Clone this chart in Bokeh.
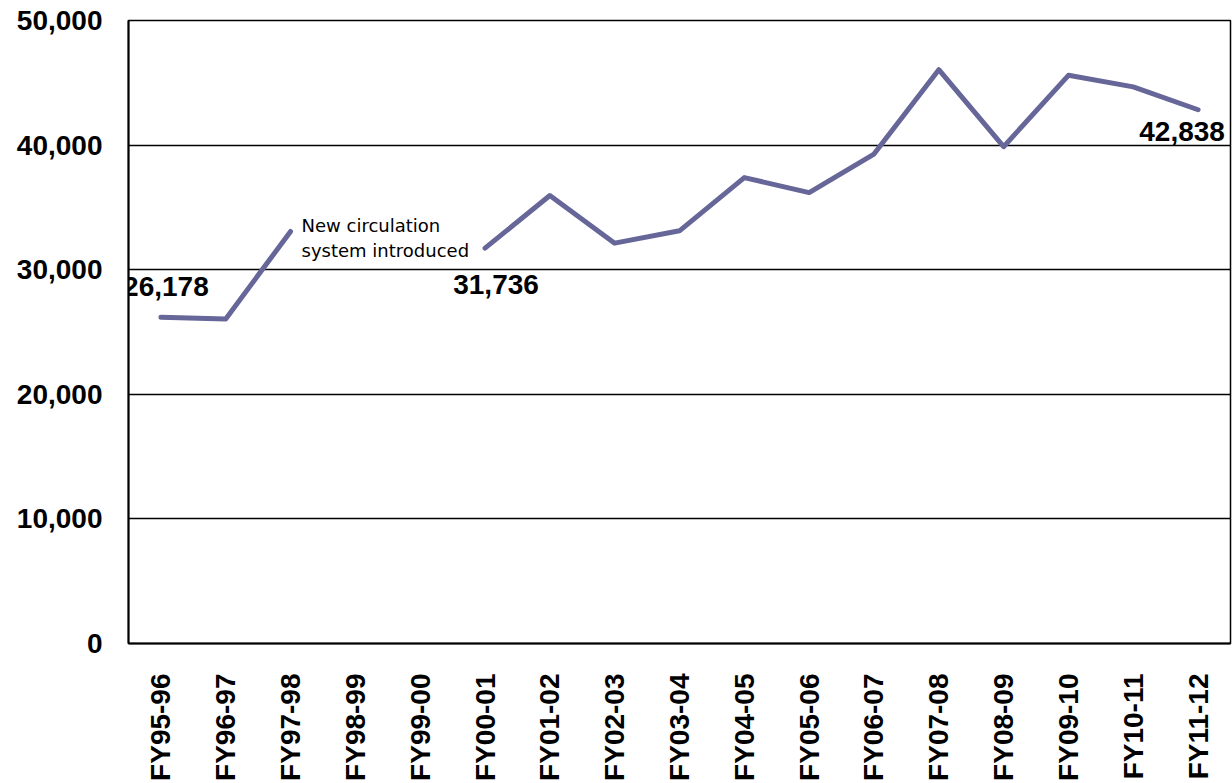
import math
from bokeh.plotting import figure
from bokeh.models import ColumnDataSource, FactorRange, Range1d, NumeralTickFormatter, FixedTicker
from bokeh.core.properties import value
from bokeh.embed import file_html
from bokeh.resources import INLINE

years = ["FY95-96", "FY96-97", "FY97-98", "FY98-99", "FY99-00", "FY00-01", "FY01-02",
         "FY02-03", "FY03-04", "FY04-05", "FY05-06", "FY06-07", "FY07-08", "FY08-09",
         "FY09-10", "FY10-11", "FY11-12"]
circulation = [26178, 26050, 33070, float("nan"), float("nan"), 31736, 35950,
               32130, 33120, 37390, 36190, 39280, 46050, 39870,
               45600, 44670, 42838]

label_years = ["FY95-96", "FY00-01", "FY11-12"]
label_values = [26178, 31736, 42838]
label_texts = ["26,178", "31,736", "42,838"]

note_year = ["FY97-98"]
note_value = [33070]
note_text = ["New circulation\nsystem introduced"]

y_ticks = [0, 10000, 20000, 30000, 40000, 50000]

p = figure(width=1232, height=783, x_range=FactorRange(*years), y_range=Range1d(0, 50000),
           output_backend="svg", toolbar_location=None,
           min_border_left=128, min_border_right=2, min_border_top=20, min_border_bottom=137)
p.background_fill_color = "white"
p.border_fill_color = "white"
p.outline_line_color = "black"
p.outline_line_width = 1.5

src = ColumnDataSource(dict(x=years, y=circulation))
p.line("x", "y", source=src, line_color="#666699", line_width=5, line_join="round", line_cap="round")

lab = ColumnDataSource(dict(x=label_years, y=label_values, t=label_texts,
                            xo=[5, 11, -16], yo=[-21, 27, 12],
                            bl=["bottom", "top", "top"]))
p.text("x", "y", text="t", source=lab, x_offset="xo", y_offset="yo",
       text_align="center", text_baseline="bl",
       text_font=value("Liberation Sans"), text_font_style="bold", text_font_size="28px",
       text_color="black")

note = ColumnDataSource(dict(x=note_year, y=note_value, t=note_text))
p.text("x", "y", text="t", source=note, x_offset=11, y_offset=-16,
       text_align="left", text_baseline="top", text_line_height=1.17,
       text_font=value("DejaVu Sans"), text_font_size="18px", text_color="black")

p.xgrid.grid_line_color = None
p.ygrid.grid_line_color = "black"
p.ygrid.grid_line_width = 1.5
p.ygrid.ticker = FixedTicker(ticks=y_ticks)

p.yaxis.ticker = FixedTicker(ticks=y_ticks)
p.yaxis.formatter = NumeralTickFormatter(format="0,0")
p.yaxis.axis_line_color = "black"
p.yaxis.axis_line_width = 2
p.yaxis.major_tick_line_color = None
p.yaxis.minor_tick_line_color = None
p.yaxis.major_label_standoff = 20
p.yaxis.major_label_text_font = "Liberation Sans"
p.yaxis.major_label_text_font_style = "bold"
p.yaxis.major_label_text_font_size = "28px"
p.yaxis.major_label_text_color = "black"

p.xaxis.axis_line_color = "black"
p.xaxis.axis_line_width = 2
p.xaxis.major_tick_line_color = None
p.xaxis.minor_tick_line_color = None
p.xaxis.major_label_orientation = math.pi / 2
p.xaxis.major_label_standoff = 24
p.xaxis.major_label_text_font = "Liberation Sans"
p.xaxis.major_label_text_font_style = "bold"
p.xaxis.major_label_text_font_size = "28px"
p.xaxis.major_label_text_color = "black"

open("out.html", "w").write(file_html(p, INLINE))
